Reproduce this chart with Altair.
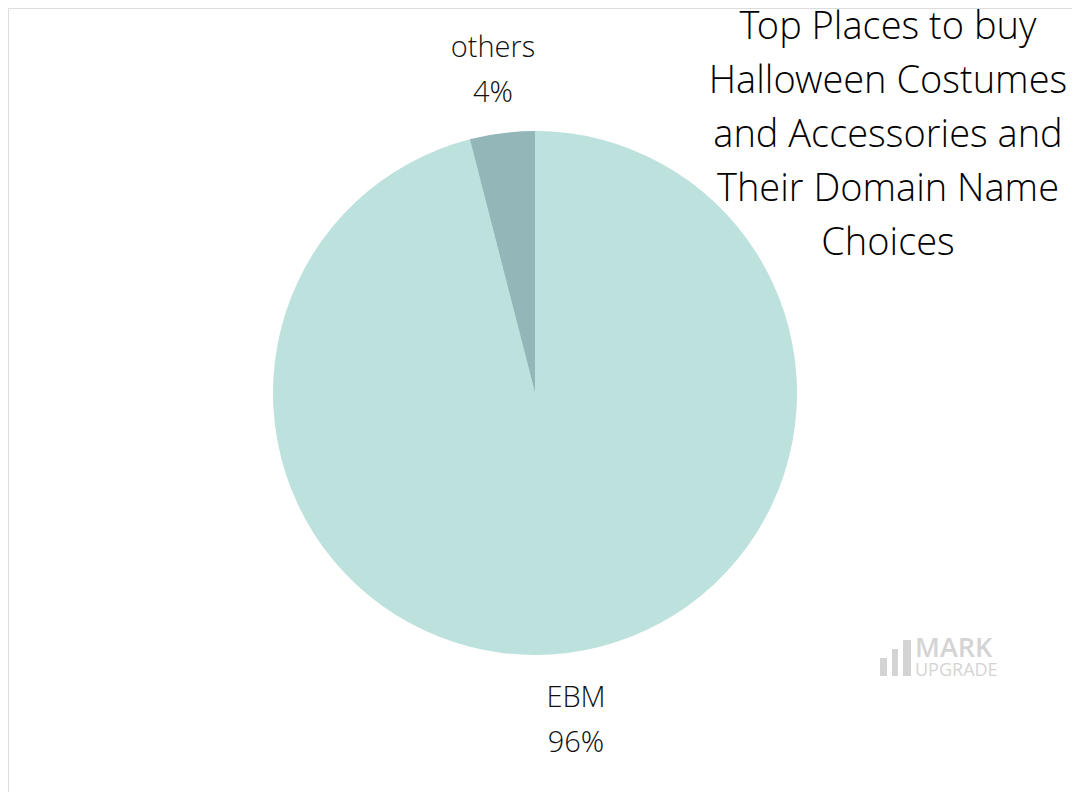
"""Top places to buy Halloween costumes - pie chart."""

import altair as alt
import pandas as pd

categories = ["EBM", "others"]
shares = [96, 4]
colors = ["#bde1dc", "#93b6b9"]

title_lines = [
    "Top Places to buy",
    "Halloween Costumes",
    "and Accessories and",
    "Their Domain Name",
    "Choices",
]

FONT = "Open Sans Light, Open Sans"
TEXT_COLOR = "#111111"
MARK_GREY = "#d4d4d4"

df = pd.DataFrame({"category": categories, "share": shares, "order": [0, 1]})

pie = (
    alt.Chart(df)
    .mark_arc(outerRadius=262, strokeWidth=0)
    .encode(
        theta=alt.Theta("share:Q", stack=True),
        order=alt.Order("order:Q"),
        color=alt.Color(
            "category:N",
            scale=alt.Scale(domain=categories, range=colors),
            legend=None,
        ),
        x=alt.value(527),
        y=alt.value(385),
    )
)

# Slice labels (name on one line, percent below)
label_pos = pd.DataFrame(
    {
        "category": categories,
        "pct": [f"{s}%" for s in shares],
        "px": [568, 485],
        "py_name": [699, 49],
        "py_pct": [744, 94],
    }
)

label_style = dict(
    font=FONT, fontSize=29, fontWeight=300, color=TEXT_COLOR,
    align="center", baseline="alphabetic",
)

names = (
    alt.Chart(label_pos)
    .mark_text(**label_style)
    .encode(
        text="category:N",
        x=alt.X("px:Q", scale=None),
        y=alt.Y("py_name:Q", scale=None),
    )
)

pcts = (
    alt.Chart(label_pos)
    .mark_text(**label_style)
    .encode(
        text="pct:N",
        x=alt.X("px:Q", scale=None),
        y=alt.Y("py_pct:Q", scale=None),
    )
)

title = (
    alt.Chart(pd.DataFrame({"t": [title_lines]}))
    .mark_text(
        font=FONT, fontSize=38, fontWeight=300, color="#000000",
        align="center", baseline="alphabetic", lineHeight=54,
    )
    .encode(text="t", x=alt.value(880), y=alt.value(31))
)

# Watermark: small bar icon + "MARK UPGRADE"
wm_bars = pd.DataFrame(
    {"x": [872, 884, 895], "x2": [879, 890, 903], "y": [650, 641, 632], "y2": [668, 668, 668]}
)
watermark_icon = (
    alt.Chart(wm_bars)
    .mark_rect(color=MARK_GREY)
    .encode(
        x=alt.X("x:Q", scale=None),
        x2="x2:Q",
        y=alt.Y("y:Q", scale=None),
        y2="y2:Q",
    )
)
watermark_mark = (
    alt.Chart(pd.DataFrame({"t": ["MARK"]}))
    .mark_text(font="Open Sans", fontSize=27, fontWeight=600, color=MARK_GREY,
               align="left", baseline="alphabetic")
    .encode(text="t:N", x=alt.value(907), y=alt.value(649))
)
watermark_upgrade = (
    alt.Chart(pd.DataFrame({"t": ["UPGRADE"]}))
    .mark_text(font="Open Sans", fontSize=18, fontWeight=500, color=MARK_GREY,
               align="left", baseline="alphabetic")
    .encode(text="t:N", x=alt.value(907), y=alt.value(668))
)

chart = (
    alt.layer(pie, names, pcts, title, watermark_icon, watermark_mark, watermark_upgrade)
    .properties(width=1064, height=784, padding=0, autosize="none")
    .configure_view(strokeWidth=0, stroke="transparent")
    .configure(background="white")
)

chart.save("out.html", embed_options={"renderer": "svg", "actions": False})
